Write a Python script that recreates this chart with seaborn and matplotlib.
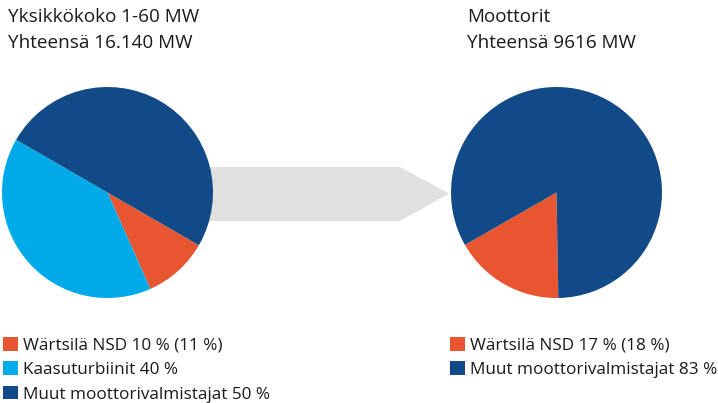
import matplotlib
matplotlib.use("Agg")
import matplotlib.pyplot as plt
from matplotlib.patches import Polygon
import seaborn as sns

# data
left_title = ["Yksikkökoko 1-60 MW", "Yhteensä 16.140 MW"]
left_labels = ["Wärtsilä NSD 10 % (11 %)", "Kaasuturbiinit 40 %", "Muut moottorivalmistajat 50 %"]
left_values = [10, 40, 50]

right_title = ["Moottorit", "Yhteensä 9616 MW"]
right_labels = ["Wärtsilä NSD 17 % (18 %)", "Muut moottorivalmistajat 83 %"]
right_values = [17, 83]

orange, light_blue, dark_blue = sns.color_palette(["#e75631", "#00aae9", "#124a87"])

sns.set_theme(style="white")
plt.rcParams["font.family"] = ["Open Sans", "DejaVu Sans"]

W, H = 718, 403
fig = plt.figure(figsize=(W / 100, H / 100), dpi=100)

# background axes in pixel coords for arrow and titles
bg = fig.add_axes([0, 0, 1, 1])
bg.set_xlim(0, W)
bg.set_ylim(H, 0)
bg.axis("off")

arrow = Polygon([(200, 167), (400, 167), (449, 193.5), (400, 221), (200, 221)],
                closed=True, facecolor="#e0e0e0", edgecolor="none")
bg.add_patch(arrow)

tfs = 13.6
bg.text(8, 22, left_title[0], fontsize=tfs, color="#1a1a1a", va="baseline")
bg.text(8, 48, left_title[1], fontsize=tfs, color="#1a1a1a", va="baseline")
bg.text(467, 22, right_title[0], fontsize=tfs, color="#1a1a1a", va="baseline")
bg.text(467, 48, right_title[1], fontsize=tfs, color="#1a1a1a", va="baseline")


def pie_axes(cx, cy, r):
    return fig.add_axes([(cx - r) / W, (H - cy - r) / H, 2 * r / W, 2 * r / H])


ax1 = pie_axes(107.5, 192.5, 105.5)
w1, _ = ax1.pie(left_values, colors=[orange, light_blue, dark_blue],
                startangle=-30, counterclock=False, wedgeprops=dict(linewidth=0))
ax1.set_xlim(-1, 1)
ax1.set_ylim(-1, 1)

ax2 = pie_axes(556.5, 192.5, 105.5)
w2, _ = ax2.pie(right_values, colors=[orange, dark_blue],
                startangle=-89, counterclock=False, wedgeprops=dict(linewidth=0))
ax2.set_xlim(-1, 1)
ax2.set_ylim(-1, 1)

leg_kw = dict(loc="upper left", frameon=False, fontsize=12.3, handlelength=0.85,
              handleheight=0.85, handletextpad=0.3, labelspacing=0.45,
              borderpad=0, borderaxespad=0, labelcolor="#1a1a1a")
fig.legend(w1, left_labels, bbox_to_anchor=(3 / W, 1 - 337 / H), **leg_kw)
fig.legend(w2, right_labels, bbox_to_anchor=(450 / W, 1 - 337 / H), **leg_kw)

fig.savefig("out.png", dpi=100)
